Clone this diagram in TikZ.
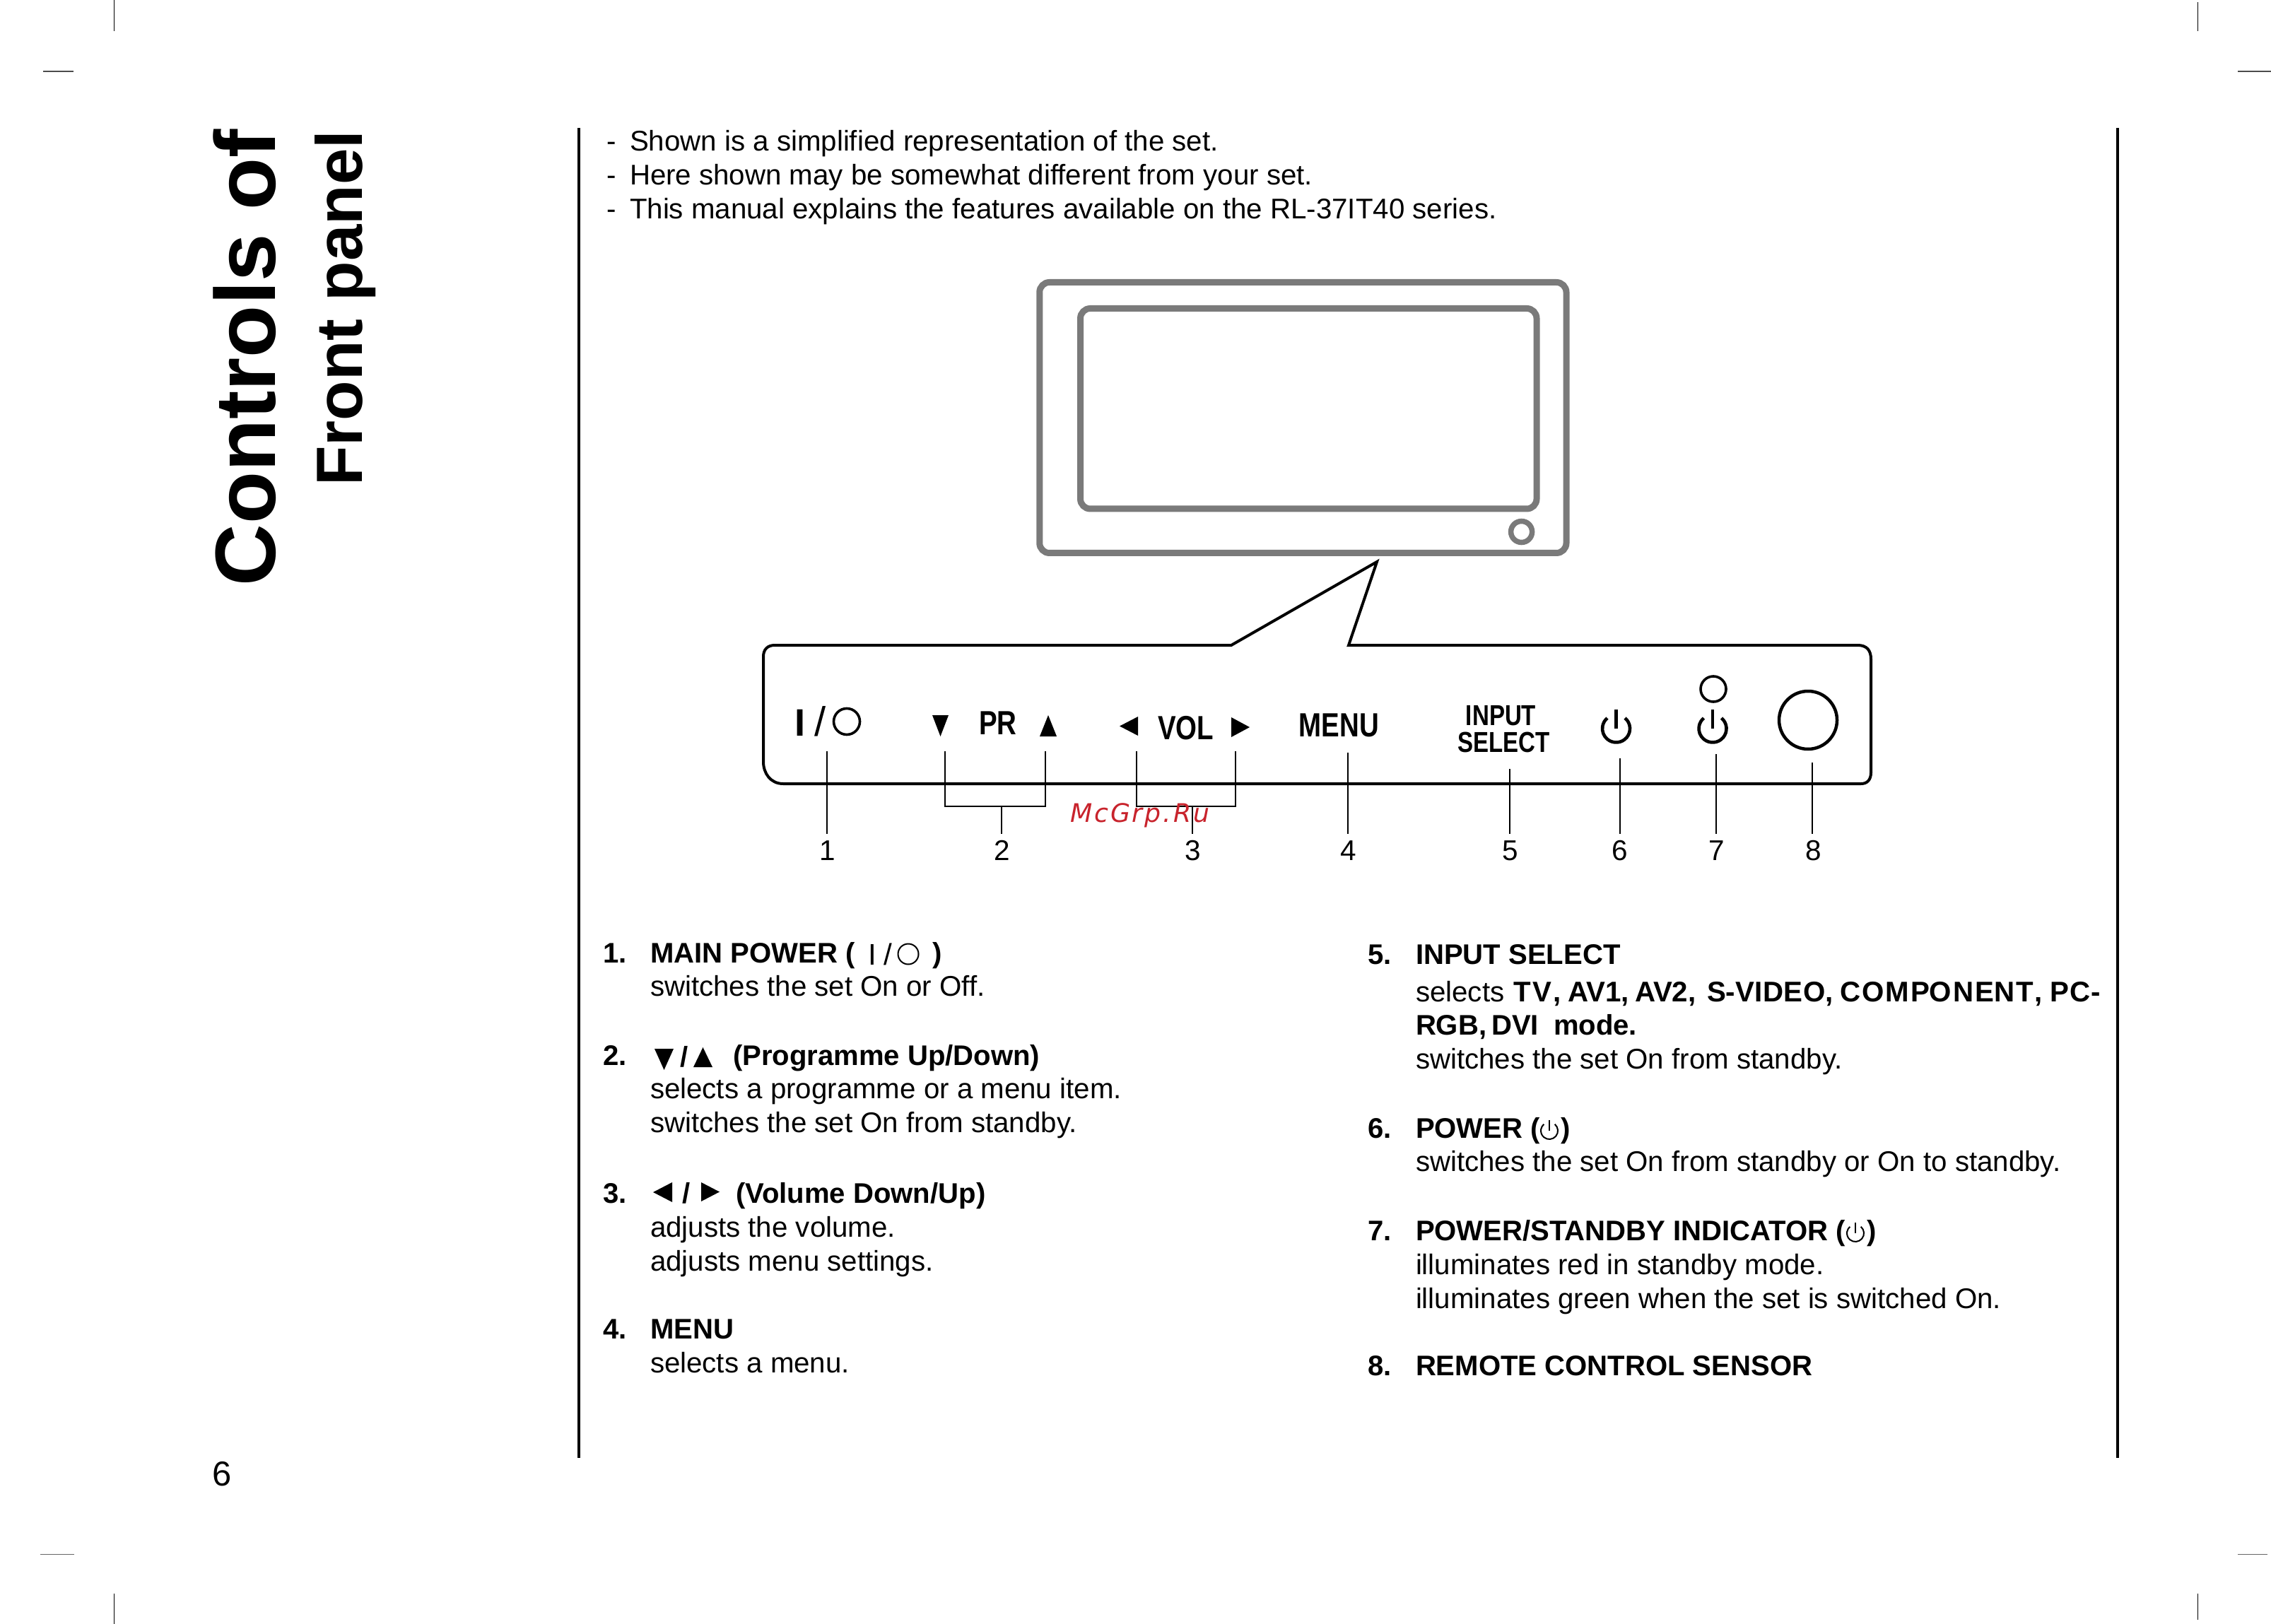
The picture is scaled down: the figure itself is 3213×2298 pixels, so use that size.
\documentclass[tikz,border=0pt]{standalone}
\usepackage{fontspec}
\setmainfont{Liberation Sans}
\newfontfamily\condfont[FakeStretch=0.81]{Liberation Sans}
\newfontfamily\wmfont[LetterSpace=8]{DejaVu Sans}
\newdimen\pxu \pxu=0.01cm
\definecolor{tvgray}{HTML}{7A7A7A}
\definecolor{wmred}{HTML}{C8232C}
\tikzset{
  every node/.style={inner sep=0pt,outer sep=0pt},
  body/.style={anchor=base west,font=\fontsize{11.45pt}{13pt}\selectfont},
  head/.style={anchor=base west,font=\fontsize{11.4pt}{13pt}\selectfont\bfseries},
  callnum/.style={anchor=base,font=\fontsize{11.5pt}{13pt}\selectfont,outer ysep=9\pxu},
  panellabel/.style={anchor=base,font=\fontsize{13.5pt}{15pt}\selectfont\condfont\bfseries},
  panelsmall/.style={anchor=base,font=\fontsize{11.6pt}{14pt}\selectfont\condfont\bfseries},
  tvline/.style={draw=tvgray,line width=9\pxu,rounded corners=14\pxu},
  paneline/.style={draw=black,line width=4\pxu,line join=miter},
  leader/.style={draw=black,line width=2\pxu},
  crop/.style={draw=black,line width=1.2\pxu},
  symline/.style={draw=black,line width=3.6\pxu},
  powerline/.style={draw=black,line width=4.6\pxu},
  headsym/.style={draw=black,line width=2\pxu},
  tri/.style={fill=black,draw=none},
}
\newcommand\powericon[5]{% x y radius barlength style
  \draw[#5] (#1,#2) ++(50:#3\pxu) arc[start angle=50,end angle=-230,radius=#3\pxu];
  \draw[#5] (#1,#2) -- ++(0,-#4);
}
\newcommand\wrd[3]{\hbox to #1\pxu{\hbox to #2\pxu{#3}\hss}}
\begin{document}
\begin{tikzpicture}[x=0.01cm,y=-0.01cm]
\useasboundingbox (0,0) rectangle (3213,2298);

% crop marks
\draw[crop] (161.7,0) -- (161.7,44);
\draw[crop,draw=black!70] (61,101) -- (104,101);
\draw[crop] (3109.3,3) -- (3109.3,44);
\draw[crop,draw=black!70] (3166,101) -- (3213,101);
\draw[crop,draw=black!60] (57,2199.5) -- (105,2199.5);
\draw[crop] (161.7,2255) -- (161.7,2298);
\draw[crop,draw=black!60] (3166,2199.5) -- (3208,2199.5);
\draw[crop] (3109.3,2255) -- (3109.3,2292);

% column rules
\draw[line width=4\pxu] (819,181) -- (819,2063);
\draw[line width=4\pxu] (2996,181) -- (2996,2063);

% side titles
\node[rotate=90,anchor=base west,font=\fontsize{34.45pt}{40pt}\selectfont\bfseries] (title) at (389,829) {Controls of};
\node[rotate=90,anchor=base west,font=\fontsize{26.3pt}{30pt}\selectfont\bfseries] (subtitle) at (512.3,688) {Front panel};
\node[anchor=base,font=\fontsize{13.9pt}{16pt}\selectfont] (page) at (314,2102) {6};

% intro lines
\node[body] (d1) at (858,214) {-};
\node[body] (i1) at (891,214) {Shown is a simplified representation of the set.};
\node[body] (d2) at (858,261.5) {-};
\node[body] (i2) at (891,261.5) {Here shown may be somewhat different from your set.};
\node[body] (d3) at (858,310) {-};
\node[body] (i3) at (891,310) {This manual explains the features available on the RL-37IT40 series.};

% television
\draw[tvline] (1470.75,399.5) rectangle (2216,782.5);
\draw[tvline] (1528.5,436.5) rectangle (2174,720);
\draw[draw=tvgray,line width=7.5\pxu] (2152.6,752.5) circle[radius=15];

% control panel with pointer
\draw[paneline] (1742,913) -- (1096,913)
  .. controls (1086,913) and (1080,919) .. (1080,929)
  -- (1080,1078)
  .. controls (1080,1094) and (1090,1109) .. (1108,1109)
  -- (2633,1109)
  .. controls (2642,1109) and (2647,1103) .. (2647,1093)
  -- (2647,933)
  .. controls (2647,920) and (2641,913) .. (2628,913)
  -- (1908,913) -- (1948,795) -- cycle;

% panel symbols and labels
\node[anchor=base,font=\fontsize{15.4pt}{18pt}\selectfont\bfseries] (pI) at (1132,1041) {I};
\node[anchor=base west,font=\fontsize{16.5pt}{18pt}\selectfont] (pS) at (1152,1041) {/};
\draw[symline] (1198,1021) circle[radius=18.5];
\fill[tri] (1319,1012) -- (1342,1012) -- (1330.5,1042) -- cycle;
\node[panellabel] (pr) at (1412,1039) {PR};
\fill[tri] (1471,1042) -- (1495,1042) -- (1483,1012) -- cycle;
\fill[tri] (1584,1027.5) -- (1610,1014) -- (1610,1041) -- cycle;
\node[panellabel] (vol) at (1677.5,1046) {VOL};
\fill[tri] (1768,1029) -- (1742,1015) -- (1742,1043) -- cycle;
\node[panellabel] (menu) at (1894.5,1042) {MENU};
\node[panelsmall] (inp) at (2123.5,1026) {INPUT};
\node[panelsmall] (sel) at (2127.5,1064) {SELECT};
\powericon{2286.5}{1031}{19.5}{27}{powerline}
\powericon{2423}{1031}{19.5}{27}{powerline}
\draw[symline] (2424,975) circle[radius=18];
\draw[line width=4.5\pxu] (2558,1019) circle[radius=41];

% callout numbers
\node[callnum] (n1) at (1171,1217) {1};
\node[callnum] (n2) at (1418,1217) {2};
\node[callnum] (n3) at (1688,1217) {3};
\node[callnum] (n4) at (1908,1217) {4};
\node[callnum] (n5) at (2137,1217) {5};
\node[callnum] (n6) at (2292,1217) {6};
\node[callnum] (n7) at (2429,1217) {7};
\node[callnum] (n8) at (2566,1217) {8};

% leaders
\coordinate (t1) at (1170,1063);
\coordinate (t2a) at (1337,1063);
\coordinate (t2b) at (1478.6,1063);
\coordinate (j2) at (1417,1141);
\coordinate (t3a) at (1608,1063);
\coordinate (t3b) at (1748,1063);
\coordinate (j3) at (1687,1141);
\coordinate (t4) at (1907,1065);
\coordinate (t5) at (2136,1088);
\coordinate (t6) at (2292,1073);
\coordinate (t7) at (2428,1067);
\coordinate (t8) at (2564,1079);
\draw[leader] (t1) -- (t1 |- n1.north);
\draw[leader] (t2a) |- (j2) -| (t2b);
\draw[leader] (j2) -- (j2 |- n2.north);
\draw[leader] (t3a) |- (j3) -| (t3b);
\draw[leader] (j3) -- (j3 |- n3.north);
\draw[leader] (t4) -- (t4 |- n4.north);
\draw[leader] (t5) -- (t5 |- n5.north);
\draw[leader] (t6) -- (t6 |- n6.north);
\draw[leader] (t7) -- (t7 |- n7.north);
\draw[leader] (t8) -- (t8 |- n8.north);

% left column
\node[head] (l1n) at (853,1362) {1.};
\node[head] (l1h) at (920,1362) {MAIN POWER (};
\node[anchor=base,font=\fontsize{12pt}{14pt}\selectfont] (hI) at (1234,1365) {I};
\node[anchor=base west,font=\fontsize{12pt}{14pt}\selectfont] (hS) at (1250,1365) {/};
\draw[headsym] (1285,1350) circle[radius=14.5];
\node[head] (l1c) at (1319,1362) {)};
\node[body] (l1a) at (920,1409) {switches the set On or Off.};

\node[head] (l2n) at (853,1507) {2.};
\fill[tri] (926,1484) -- (953,1484) -- (939.5,1514) -- cycle;
\node[head] (l2s) at (962,1509) {/};
\fill[tri] (981,1510) -- (1008,1510) -- (994.5,1482) -- cycle;
\node[head] (l2h) at (1037,1507) {(Programme Up/Down)};
\node[body] (l2a) at (920,1554) {selects a programme or a menu item.};
\node[body] (l2b) at (920,1602) {switches the set On from standby.};

\node[head] (l3n) at (853,1702) {3.};
\fill[tri] (924,1687) -- (951,1673) -- (951,1701) -- cycle;
\node[head] (l3s) at (965,1702) {/};
\fill[tri] (1018,1686.5) -- (992,1673) -- (992,1700) -- cycle;
\node[head] (l3h) at (1041,1702) {(Volume Down/Up)};
\node[body] (l3a) at (920,1750) {adjusts the volume.};
\node[body] (l3b) at (920,1798) {adjusts menu settings.};

\node[head] (l4n) at (853,1894) {4.};
\node[head] (l4h) at (920,1894) {MENU};
\node[body] (l4a) at (920,1942) {selects a menu.};

% right column
\node[head] (r5n) at (1935,1364) {5.};
\node[head] (r5h) at (2003,1364) {INPUT SELECT};
\node[body] (r5a) at (2003,1417) {\wrd{138}{125}{selects\hfil}\bfseries\wrd{77}{68}{T\hfil V\hfil ,}\wrd{95}{82}{AV\hfil 1,}\wrd{102}{86}{AV\hfil 2,}\wrd{188}{179}{S-\hfil V\hfil I\hfil D\hfil E\hfil O\hfil ,}\wrd{297}{287}{C\hfil O\hfil M\hfil PO\hfil N\hfil EN\hfil T\hfil ,}\wrd{72}{72}{P\hfil C\hfil -}};
\node[head] (r5b) at (2003,1464) {\wrd{107}{93}{R\hfil G\hfil B,}\wrd{88}{67}{D\hfil V\hfil I}mode.};
\node[body] (r5c) at (2003,1512) {switches the set On from standby.};

\node[head] (r6n) at (1935,1610) {6.};
\node[head] (r6h) at (2003,1610) {POWER (};
\powericon{2192}{1600}{12}{15}{headsym}
\node[head] (r6c) at (2208,1610) {)};
\node[body] (r6a) at (2003,1657) {switches the set On from standby or On to standby.};

\node[head] (r7n) at (1935,1755) {7.};
\node[head] (r7h) at (2003,1755) {POWER/STANDBY INDICATOR (};
\powericon{2625}{1745}{12}{15}{headsym}
\node[head] (r7c) at (2641,1755) {)};
\node[body] (r7a) at (2003,1803) {illuminates red in standby mode.};
\node[body] (r7b) at (2003,1851) {illuminates green when the set is switched On.};

\node[head] (r8n) at (1935,1946) {8.};
\node[head] (r8h) at (2003,1946) {REMOTE CONTROL SENSOR};

% watermark
\node[anchor=base west,text=wmred,font=\fontsize{10.3pt}{12pt}\selectfont\wmfont\itshape] (wm) at (1514,1163) {McGrp.Ru};
\end{tikzpicture}
\end{document}
